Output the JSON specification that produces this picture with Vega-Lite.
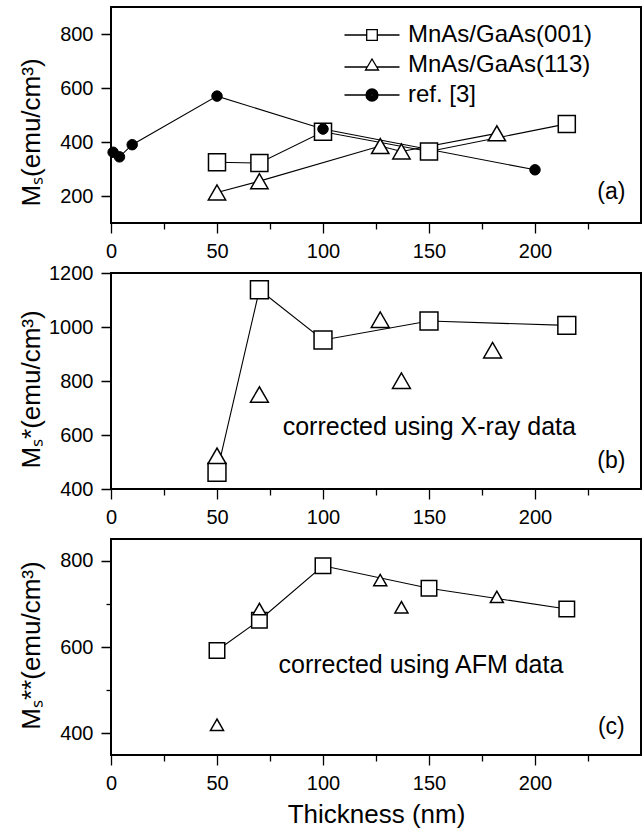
{
  "$schema": "https://vega.github.io/schema/vega-lite/v6.json",
  "background": "white",
  "padding": {"left": 17, "top": 6, "right": 2, "bottom": 4},
  "bounds": "flush",
  "spacing": 50,
  "datasets": {
    "pts": [
      {"p": "a", "s": "MnAs/GaAs(001)", "t": 50, "m": 325},
      {"p": "a", "s": "MnAs/GaAs(001)", "t": 70, "m": 322},
      {"p": "a", "s": "MnAs/GaAs(001)", "t": 100, "m": 438},
      {"p": "a", "s": "MnAs/GaAs(001)", "t": 150, "m": 365},
      {"p": "a", "s": "MnAs/GaAs(001)", "t": 215, "m": 467},
      {"p": "a", "s": "MnAs/GaAs(113)", "t": 50, "m": 213},
      {"p": "a", "s": "MnAs/GaAs(113)", "t": 70, "m": 255},
      {"p": "a", "s": "MnAs/GaAs(113)", "t": 127, "m": 385},
      {"p": "a", "s": "MnAs/GaAs(113)", "t": 137, "m": 365},
      {"p": "a", "s": "MnAs/GaAs(113)", "t": 182, "m": 432},
      {"p": "a", "s": "ref. [3]", "t": 1, "m": 362},
      {"p": "a", "s": "ref. [3]", "t": 4, "m": 345},
      {"p": "a", "s": "ref. [3]", "t": 10, "m": 390},
      {"p": "a", "s": "ref. [3]", "t": 50, "m": 570},
      {"p": "a", "s": "ref. [3]", "t": 100, "m": 448},
      {"p": "a", "s": "ref. [3]", "t": 200, "m": 297},
      {"p": "b", "s": "MnAs/GaAs(001)", "t": 50, "m": 462},
      {"p": "b", "s": "MnAs/GaAs(001)", "t": 70, "m": 1138},
      {"p": "b", "s": "MnAs/GaAs(001)", "t": 100, "m": 952},
      {"p": "b", "s": "MnAs/GaAs(001)", "t": 150, "m": 1022},
      {"p": "b", "s": "MnAs/GaAs(001)", "t": 215, "m": 1006},
      {"p": "b", "s": "MnAs/GaAs(113)", "t": 50, "m": 523},
      {"p": "b", "s": "MnAs/GaAs(113)", "t": 70, "m": 750},
      {"p": "b", "s": "MnAs/GaAs(113)", "t": 127, "m": 1027},
      {"p": "b", "s": "MnAs/GaAs(113)", "t": 137, "m": 801},
      {"p": "b", "s": "MnAs/GaAs(113)", "t": 180, "m": 914},
      {"p": "c", "s": "MnAs/GaAs(001)", "t": 50, "m": 592},
      {"p": "c", "s": "MnAs/GaAs(001)", "t": 70, "m": 662},
      {"p": "c", "s": "MnAs/GaAs(001)", "t": 100, "m": 788},
      {"p": "c", "s": "MnAs/GaAs(001)", "t": 150, "m": 736},
      {"p": "c", "s": "MnAs/GaAs(001)", "t": 215, "m": 688},
      {"p": "c", "s": "MnAs/GaAs(113)", "t": 50, "m": 420},
      {"p": "c", "s": "MnAs/GaAs(113)", "t": 70, "m": 688},
      {"p": "c", "s": "MnAs/GaAs(113)", "t": 127, "m": 755},
      {"p": "c", "s": "MnAs/GaAs(113)", "t": 137, "m": 692},
      {"p": "c", "s": "MnAs/GaAs(113)", "t": 182, "m": 716}
    ]
  },
  "config": {
    "font": "Liberation Sans",
    "view": {"stroke": "black", "strokeWidth": 2},
    "axis": {
      "domain": false,
      "grid": false,
      "tickColor": "black",
      "tickWidth": 1.3,
      "tickSize": 10,
      "labelColor": "black",
      "labelFont": "Liberation Sans",
      "labelFontSize": 20,
      "labelOverlap": false,
      "labelFlush": false,
      "titleFont": "Liberation Sans",
      "titleFontSize": 26,
      "titleFontWeight": "normal",
      "titleColor": "black"
    },
    "text": {"font": "Liberation Sans", "color": "black"}
  },
  "resolve": {
    "scale": {"x": "independent", "y": "independent", "shape": "independent"},
    "legend": {"shape": "independent"}
  },
  "vconcat": [
    {
      "width": 530,
      "height": 216,
      "layer": [
        {"data": {"name": "pts"},
          "transform": [{"filter": "datum.p === 'a'"}],
          "mark": {"type": "line", "color": "black", "strokeWidth": 1.1},
          "encoding": {
            "x": {"field": "t", "type": "quantitative",
              "scale": {"domain": [0, 250], "nice": false, "zero": false},
              "axis": {"title": null, "values": [0, 25, 50, 75, 100, 125, 150, 175, 200, 225], "labelPadding": 8,
                "labelExpr": "datum.value % 50 === 0 ? '' + datum.value : ''",
                "tickDash": {"condition": {"test": "datum.value % 50 !== 0", "value": [6, 30]}, "value": [1, 0]}}},
            "y": {"field": "m", "type": "quantitative",
              "scale": {"domain": [100, 900], "nice": false, "zero": false},
              "axis": {"title": "Mₛ(emu/cm³)", "values": [200, 300, 400, 500, 600, 700, 800], "labelPadding": 8,
                "labelExpr": "datum.value % 200 === 0 ? '' + datum.value : ''",
                "tickDash": {"condition": {"test": "datum.value % 200 !== 0", "value": [5, 30]}, "value": [1, 0]},
                "titleAngle": 270, "titleAlign": "center", "titleBaseline": "middle", "titleX": -80, "titleY": 125}},
            "detail": {"field": "s", "type": "nominal"}}},
        {"data": {"name": "pts"},
          "transform": [{"filter": "datum.p === 'a' && datum.s === 'MnAs/GaAs(001)'"}],
          "mark": {"type": "point", "shape": "square", "filled": true, "fill": "white", "stroke": "black", "strokeWidth": 1.5, "opacity": 1, "size": 290},
          "encoding": {"x": {"field": "t", "type": "quantitative"}, "y": {"field": "m", "type": "quantitative"}}},
        {"data": {"name": "pts"},
          "transform": [{"filter": "datum.p === 'a' && datum.s === 'MnAs/GaAs(113)'"}],
          "mark": {"type": "point", "shape": "triangle-up", "filled": true, "fill": "white", "stroke": "black", "strokeWidth": 1.5, "opacity": 1, "size": 300},
          "encoding": {"x": {"field": "t", "type": "quantitative"}, "y": {"field": "m", "type": "quantitative"}}},
        {"data": {"name": "pts"},
          "transform": [{"filter": "datum.p === 'a' && datum.s === 'ref. [3]'"}],
          "mark": {"type": "point", "shape": "circle", "filled": true, "fill": "black", "stroke": "black", "strokeWidth": 1, "opacity": 1, "size": 110},
          "encoding": {"x": {"field": "t", "type": "quantitative"}, "y": {"field": "m", "type": "quantitative"}}},
        {"data": {"name": "pts"},
          "transform": [{"filter": "false"}],
          "mark": {"type": "point", "filled": false, "stroke": "black", "strokeWidth": 1.2, "opacity": 1},
          "encoding": {
            "x": {"field": "t", "type": "quantitative"},
            "y": {"field": "m", "type": "quantitative"},
            "shape": {"field": "s", "type": "nominal",
              "scale": {"domain": ["MnAs/GaAs(001)", "MnAs/GaAs(113)", "ref. [3]"],
                "range": [
                  "M-2.75,0H-0.53M0.53,0H2.75M-0.53,-0.53H0.53V0.53H-0.53Z",
                  "M-2.75,0.2H-0.47M0.47,0.2H2.75M-0.65,0.5H0.65L0,-0.6Z",
                  "M-2.75,0H-0.6M0.6,0H2.75M0.6,0A0.6,0.6,0,1,1,-0.6,0A0.6,0.6,0,1,1,0.6,0M0.5,0A0.5,0.5,0,1,1,-0.5,0A0.5,0.5,0,1,1,0.5,0M0.4,0A0.4,0.4,0,1,1,-0.4,0A0.4,0.4,0,1,1,0.4,0M0.3,0A0.3,0.3,0,1,1,-0.3,0A0.3,0.3,0,1,1,0.3,0M0.2,0A0.2,0.2,0,1,1,-0.2,0A0.2,0.2,0,1,1,0.2,0M0.1,0A0.1,0.1,0,1,1,-0.1,0A0.1,0.1,0,1,1,0.1,0"
                ]},
              "legend": {"title": null, "orient": "none", "legendX": 249, "legendY": 16, "padding": 0,
                "symbolSize": 400, "symbolStrokeColor": "black", "symbolStrokeWidth": 1.3, "symbolOpacity": 1,
                "labelFontSize": 24, "labelFont": "Liberation Sans", "labelColor": "black",
                "labelOffset": 24, "rowPadding": 6, "labelLimit": 400}}
          }},
        {"data": {"values": [{"label": "(a)"}]},
          "mark": {"type": "text", "fontSize": 23, "align": "center", "baseline": "middle"},
          "encoding": {"x": {"datum": 236}, "y": {"datum": 215}, "text": {"field": "label"}}}
      ]
    },
    {
      "width": 530,
      "height": 216,
      "layer": [
        {"data": {"name": "pts"},
          "transform": [{"filter": "datum.p === 'b' && datum.s === 'MnAs/GaAs(001)'"}],
          "mark": {"type": "line", "color": "black", "strokeWidth": 1.1},
          "encoding": {
            "x": {"field": "t", "type": "quantitative",
              "scale": {"domain": [0, 250], "nice": false, "zero": false},
              "axis": {"title": null, "values": [0, 25, 50, 75, 100, 125, 150, 175, 200, 225], "labelPadding": 8,
                "labelExpr": "datum.value % 50 === 0 ? '' + datum.value : ''",
                "tickDash": {"condition": {"test": "datum.value % 50 !== 0", "value": [6, 30]}, "value": [1, 0]}}},
            "y": {"field": "m", "type": "quantitative",
              "scale": {"domain": [400, 1200], "nice": false, "zero": false},
              "axis": {"title": "Mₛ*(emu/cm³)", "values": [400, 500, 600, 700, 800, 900, 1000, 1100, 1200], "labelPadding": 8,
                "labelExpr": "datum.value % 200 === 0 ? '' + datum.value : ''",
                "tickDash": {"condition": {"test": "datum.value % 200 !== 0", "value": [5, 30]}, "value": [1, 0]},
                "titleAngle": 270, "titleAlign": "center", "titleBaseline": "middle", "titleX": -80, "titleY": 116}}}},
        {"data": {"name": "pts"},
          "transform": [{"filter": "datum.p === 'b'"}],
          "mark": {"type": "point", "filled": true, "fill": "white", "stroke": "black", "strokeWidth": 1.5, "opacity": 1, "size": 320},
          "encoding": {
            "x": {"field": "t", "type": "quantitative"},
            "y": {"field": "m", "type": "quantitative"},
            "shape": {"field": "s", "type": "nominal",
              "scale": {"domain": ["MnAs/GaAs(001)", "MnAs/GaAs(113)"], "range": ["square", "triangle-up"]},
              "legend": null}
          }},
        {"data": {"values": [{"label": "(b)"}]},
          "mark": {"type": "text", "fontSize": 23, "align": "center", "baseline": "middle"},
          "encoding": {"x": {"datum": 236}, "y": {"datum": 502}, "text": {"field": "label"}}},
        {"data": {"values": [{"label": "corrected using X-ray data"}]},
          "mark": {"type": "text", "fontSize": 25, "align": "left", "baseline": "middle"},
          "encoding": {"x": {"datum": 81}, "y": {"datum": 628}, "text": {"field": "label"}}}
      ]
    },
    {
      "width": 530,
      "height": 216,
      "layer": [
        {"data": {"name": "pts"},
          "transform": [{"filter": "datum.p === 'c' && datum.s === 'MnAs/GaAs(001)'"}],
          "mark": {"type": "line", "color": "black", "strokeWidth": 1.1},
          "encoding": {
            "x": {"field": "t", "type": "quantitative",
              "scale": {"domain": [0, 250], "nice": false, "zero": false},
              "axis": {"title": "Thickness (nm)", "titlePadding": 8, "values": [0, 25, 50, 75, 100, 125, 150, 175, 200, 225], "labelPadding": 8,
                "labelExpr": "datum.value % 50 === 0 ? '' + datum.value : ''",
                "tickDash": {"condition": {"test": "datum.value % 50 !== 0", "value": [6, 30]}, "value": [1, 0]}}},
            "y": {"field": "m", "type": "quantitative",
              "scale": {"domain": [350, 850], "nice": false, "zero": false},
              "axis": {"title": "Mₛ**(emu/cm³)", "values": [400, 500, 600, 700, 800], "labelPadding": 8,
                "labelExpr": "datum.value % 200 === 0 ? '' + datum.value : ''",
                "tickDash": {"condition": {"test": "datum.value % 200 !== 0", "value": [5, 30]}, "value": [1, 0]},
                "titleAngle": 270, "titleAlign": "center", "titleBaseline": "middle", "titleX": -80, "titleY": 106}}}},
        {"data": {"name": "pts"},
          "transform": [{"filter": "datum.p === 'c' && datum.s === 'MnAs/GaAs(001)'"}],
          "mark": {"type": "point", "shape": "square", "filled": true, "fill": "white", "stroke": "black", "strokeWidth": 1.5, "opacity": 1, "size": 240},
          "encoding": {"x": {"field": "t", "type": "quantitative"}, "y": {"field": "m", "type": "quantitative"}}},
        {"data": {"name": "pts"},
          "transform": [{"filter": "datum.p === 'c' && datum.s === 'MnAs/GaAs(113)'"}],
          "mark": {"type": "point", "shape": "triangle-up", "filled": true, "fill": "white", "stroke": "black", "strokeWidth": 1.5, "opacity": 1, "size": 170},
          "encoding": {"x": {"field": "t", "type": "quantitative"}, "y": {"field": "m", "type": "quantitative"}}},
        {"data": {"values": [{"label": "(c)"}]},
          "mark": {"type": "text", "fontSize": 23, "align": "center", "baseline": "middle"},
          "encoding": {"x": {"datum": 236}, "y": {"datum": 415}, "text": {"field": "label"}}},
        {"data": {"values": [{"label": "corrected using AFM data"}]},
          "mark": {"type": "text", "fontSize": 25, "align": "left", "baseline": "middle"},
          "encoding": {"x": {"datum": 79}, "y": {"datum": 558}, "text": {"field": "label"}}}
      ]
    }
  ]
}
